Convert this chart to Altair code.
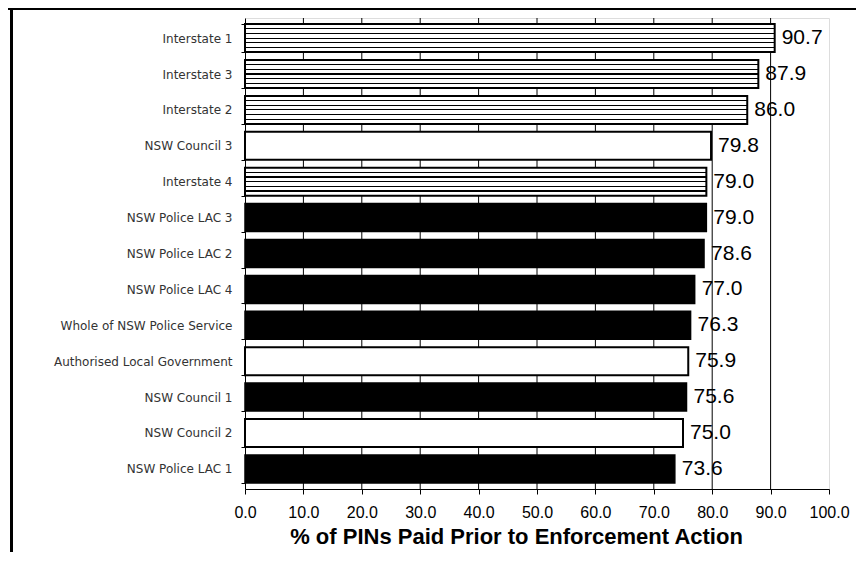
import altair as alt
import pandas as pd

categories = ["Interstate 1", "Interstate 3", "Interstate 2", "NSW Council 3", "Interstate 4",
              "NSW Police LAC 3", "NSW Police LAC 2", "NSW Police LAC 4",
              "Whole of NSW Police Service", "Authorised Local Government",
              "NSW Council 1", "NSW Council 2", "NSW Police LAC 1"]
values = [90.7, 87.9, 86.0, 79.8, 79.0, 79.0, 78.6, 77.0, 76.3, 75.9, 75.6, 75.0, 73.6]
styles = ["striped", "striped", "striped", "hollow", "striped",
          "solid", "solid", "solid", "solid", "hollow",
          "solid", "hollow", "solid"]
x_ticks = [0, 10, 20, 30, 40, 50, 60, 70, 80, 90, 100]
grid_vals = [10, 20, 30, 40, 50, 60, 70, 80, 90]

df = pd.DataFrame({"cat": categories, "val": values, "style": styles})
gdf = pd.DataFrame({"val": grid_vals})

W, H = 584, 471
PAD_L, PAD_T, PAD_R, PAD_B = 237, 10, 27, 63

stops = [alt.GradientStop(color="white", offset=0)]
for i in range(1, 6):
    o = i / 6
    stops += [alt.GradientStop(color="white", offset=o - 0.02),
              alt.GradientStop(color="black", offset=o - 0.02),
              alt.GradientStop(color="black", offset=o + 0.02),
              alt.GradientStop(color="white", offset=o + 0.02)]
stops.append(alt.GradientStop(color="white", offset=1))
stripe = alt.LinearGradient(gradient="linear", stops=stops, x1=0, x2=0, y1=0, y2=1)

x_scale = alt.Scale(domain=[0, 100], nice=False)
x_axis = alt.Axis(values=x_ticks, format=".1f", title="% of PINs Paid Prior to Enforcement Action",
                  labelFont="Liberation Sans", labelFontSize=16, labelColor="black",
                  labelPadding=10, tickSize=5, tickColor="black", domainColor="black",
                  grid=False,
                  titleFont="Liberation Sans", titleFontSize=22, titleFontWeight="bold",
                  titleColor="black", titleX=271, titleY=37, titleAlign="center",
                  titleBaseline="top", labelFlush=False)
x_enc = alt.X("val:Q", scale=x_scale, axis=x_axis)
y_enc = alt.Y("cat:N", sort=categories,
              scale=alt.Scale(paddingInner=0.22, paddingOuter=0.17),
              axis=alt.Axis(title=None, labelFont="DejaVu Sans", labelFontSize=12, labelColor="#333333",
                            labelPadding=9, tickSize=4, tickColor="black", domainColor="black",
                            tickBand="extent", grid=False))

grid = alt.Chart(gdf).mark_rule(color="black", strokeWidth=1).encode(x=x_enc)

base = alt.Chart(df).encode(x=x_enc, y=y_enc)

solid = base.transform_filter("datum.style == 'solid'").mark_bar(
    fill="black", stroke="black", strokeWidth=1.5)
hollow = base.transform_filter("datum.style == 'hollow'").mark_bar(
    fill="white", stroke="black", strokeWidth=2)
striped = base.transform_filter("datum.style == 'striped'").mark_bar(
    fill=stripe, stroke="black", strokeWidth=2)
labels = base.mark_text(align="left", baseline="middle", dx=7, font="Liberation Sans",
                        fontSize=21, color="black").encode(text=alt.Text("val:Q", format=".1f"))

frame_top = alt.Chart(df).mark_rule(color="black", strokeWidth=3).encode(
    x=alt.value(-PAD_L), x2=alt.value(W + PAD_R), y=alt.value(-PAD_T))
frame_left = alt.Chart(df).mark_rule(color="black", strokeWidth=2.5).encode(
    x=alt.value(-233.75), y=alt.value(-PAD_T), y2=alt.value(H + PAD_B))

chart = alt.layer(grid, solid, hollow, striped, labels, frame_top, frame_left).properties(
    width=W, height=H,
    autosize=alt.AutoSizeParams(type="none"),
    padding={"left": PAD_L, "top": PAD_T, "right": PAD_R, "bottom": PAD_B},
).configure_view(stroke="#888888", strokeWidth=1).configure(background="white")

chart.save("out.html", embed_options={"renderer": "svg", "actions": False})
